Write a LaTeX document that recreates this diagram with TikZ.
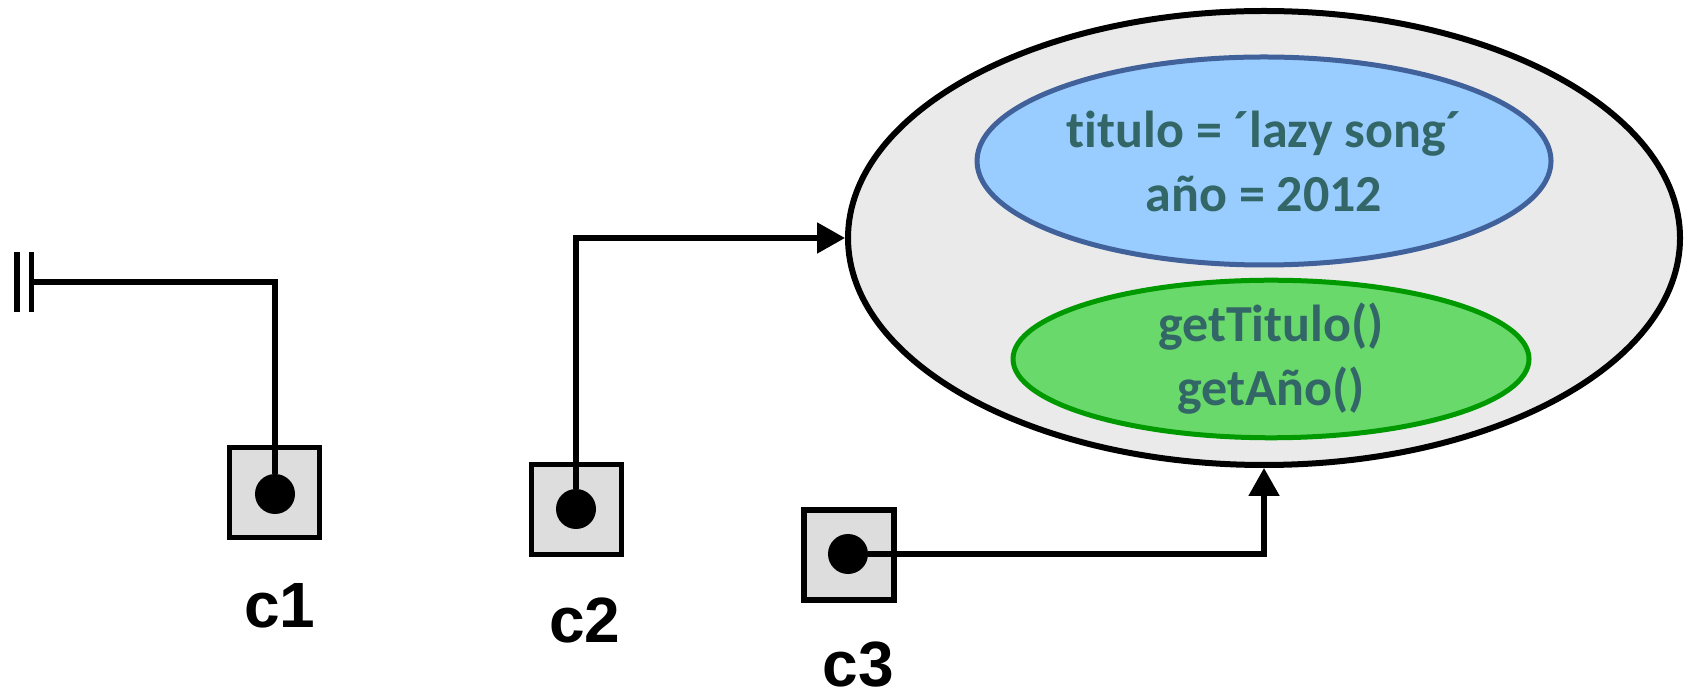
\documentclass[tikz,border=0pt]{standalone}
\usepackage{fontspec}
\setmainfont{Carlito}[Ligatures={NoCommon}]
\newfontfamily\labelfont{Liberation Sans}
\usetikzlibrary{shapes.geometric,arrows.meta}
\definecolor{textteal}{HTML}{336666}
\definecolor{objfill}{HTML}{EAEAEA}
\definecolor{attrfill}{HTML}{99CCFF}
\definecolor{attrline}{HTML}{41619B}
\definecolor{methfill}{HTML}{69D96B}
\definecolor{methline}{HTML}{009A00}
\definecolor{varfill}{HTML}{DDDDDD}
\tikzset{
  varbox/.style={draw=black, fill=varfill, line width=2.6pt, minimum size=45pt, inner sep=0pt},
  refdot/.style={circle, fill=black, minimum size=20pt, inner sep=0pt},
  object/.style={ellipse, draw=black, fill=objfill, line width=3pt, minimum width=416pt, minimum height=227pt, inner sep=0pt},
  part/.style={ellipse, line width=2.5pt, inner sep=0pt, align=center, text=textteal,
    font=\bfseries\fontsize{26}{32}\selectfont},
  link/.style={line width=2.6pt, draw=black},
  arrowlink/.style={link, -{Triangle[length=14pt,width=15pt]}},
  varname/.style={anchor=base, inner sep=0pt, font=\labelfont\bfseries\fontsize{32}{36}\selectfont}
}
\begin{document}
\begin{tikzpicture}[x=0.5pt, y=-0.5pt]
  \useasboundingbox[fill=white] (0,0) rectangle (1689,688);

  % the object and its two parts
  \node[object] (obj) at (1264,238) {};
  \node[part, draw=attrline, fill=attrfill, minimum width=287pt, minimum height=104pt]
    (attrs) at (1264,161) {titulo = ´lazy song´\\año = 2012};
  \node[part, draw=methline, fill=methfill, minimum width=258pt, minimum height=74pt]
    (meths) at (1271,359) {getTitulo()\\getAño()};

  % reference variables
  \node[varbox] (v1) at (274.5,492.5) {};
  \node[varbox] (v2) at (576.5,509.5) {};
  \node[varbox] (v3) at (849,555) {};
  \node[refdot] (d1) at (275,494) {};
  \node[refdot] (d2) at (576,509) {};
  \node[refdot] (d3) at (848,554) {};

  \node[varname] (n1) at (280,627) {c1};
  \node[varname] (n2) at (585,642) {c2};
  \node[varname] (n3) at (858,686) {c3};

  % c1 holds a null reference
  \coordinate (nullend) at (31.5,282);
  \draw[link] (d1) |- (nullend);
  \draw[line width=2.75pt] (nullend) ++(0,-30) -- ++(0,60);
  \draw[line width=2.75pt] (nullend) ++(-14.5,-30) -- ++(0,60);

  % c2 and c3 point to the object
  \draw[arrowlink] (d2) |- (obj.west);
  \draw[arrowlink] (d3) -| (obj.south);
\end{tikzpicture}
\end{document}
